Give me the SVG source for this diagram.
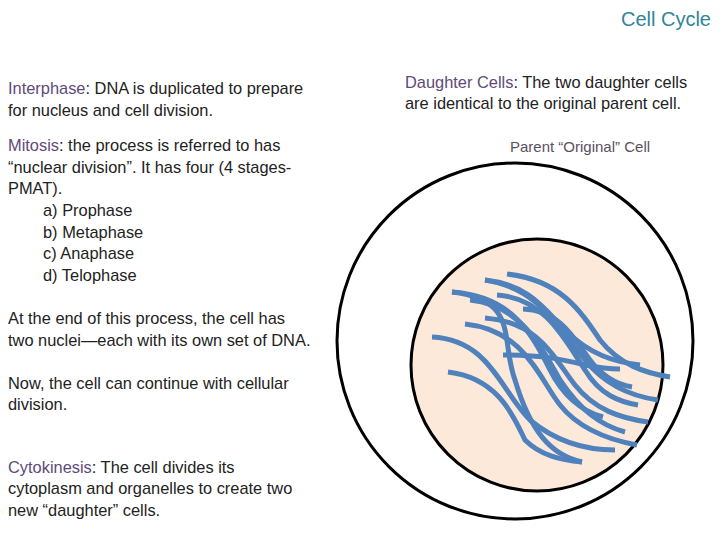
<svg xmlns="http://www.w3.org/2000/svg" width="720" height="540" viewBox="0 0 720 540">
<style>
text{font-family:"Liberation Sans",Arial,sans-serif;font-size:16.4px;fill:#222}
.k{fill:#5f497a}
.t{font-size:20px;fill:#31849b}
.g{fill:#5a5060;font-size:15px}
.chr path{fill:none;stroke:#4f81bd;stroke-width:5}
</style>
<rect width="720" height="540" fill="#fff"/>
<text class="t" x="711" y="26" text-anchor="end">Cell Cycle</text>
<g id="text-left">
<text x="8" y="94"><tspan class="k">Interphase</tspan>: DNA is duplicated to prepare</text>
<text x="8" y="116">for nucleus and cell division.</text>
<text x="8" y="151"><tspan class="k">Mitosis</tspan>: the process is referred to has</text>
<text x="8" y="173">“nuclear division”.  It has four (4 stages-</text>
<text x="8" y="194">PMAT).</text>
<text x="43" y="216">a) Prophase</text>
<text x="43" y="238">b) Metaphase</text>
<text x="43" y="259">c) Anaphase</text>
<text x="43" y="281">d) Telophase</text>
<text x="8" y="324">At the end of this process, the cell has</text>
<text x="8" y="346">two nuclei—each with its own set of DNA.</text>
<text x="8" y="389">Now, the cell can continue with cellular</text>
<text x="8" y="410">division.</text>
<text x="8" y="473"><tspan class="k">Cytokinesis</tspan>: The cell divides its</text>
<text x="8" y="494">cytoplasm and organelles to create two</text>
<text x="8" y="516">new “daughter” cells.</text>
</g>
<g id="text-right">
<text x="405" y="88"><tspan class="k">Daughter Cells</tspan>: The two daughter cells</text>
<text x="405" y="109">are identical to the original parent cell.</text>
<text class="g" x="510" y="152">Parent “Original” Cell</text>
</g>
<g id="parent-cell">
<circle cx="515" cy="341" r="178" fill="none" stroke="#000" stroke-width="3"/>
</g>
<g id="nucleus">
<circle cx="537" cy="365" r="126" fill="#fde9d9" stroke="#000" stroke-width="3"/>
</g>
<g id="chromosomes" class="chr">
<path d="M452 292 C520 300 500 340 515 380 C530 430 550 455 582 462"/>
<path d="M432 337 C490 340 500 390 530 420 C560 445 590 450 615 450"/>
<path d="M448 372 C500 378 515 420 525 440 C540 455 560 460 582 462"/>
<path d="M465 324 C525 330 540 380 560 405 C580 430 610 440 637 445"/>
<path d="M485 318 C540 322 555 360 575 385 C595 410 620 418 648 422"/>
<path d="M452 292 C510 296 530 330 550 370 C565 400 585 412 603 417"/>
<path d="M485 280 C540 288 560 330 585 360 C605 385 630 396 658 400"/>
<path d="M507 274 C560 280 580 310 600 340 C620 365 645 373 670 377"/>
<path d="M497 295 C545 298 565 340 585 370 C600 395 620 402 638 405"/>
<path d="M523 309 C560 310 575 340 590 360 C605 380 620 385 632 387"/>
<path d="M503 355 C545 355 565 360 585 365 C600 368 610 369 620 369"/>
<path d="M485 280 C530 285 545 310 565 330 C590 355 615 362 640 365"/>
<path d="M470 300 C520 305 540 345 560 380 C580 410 600 425 625 432"/>
</g>
</svg>
